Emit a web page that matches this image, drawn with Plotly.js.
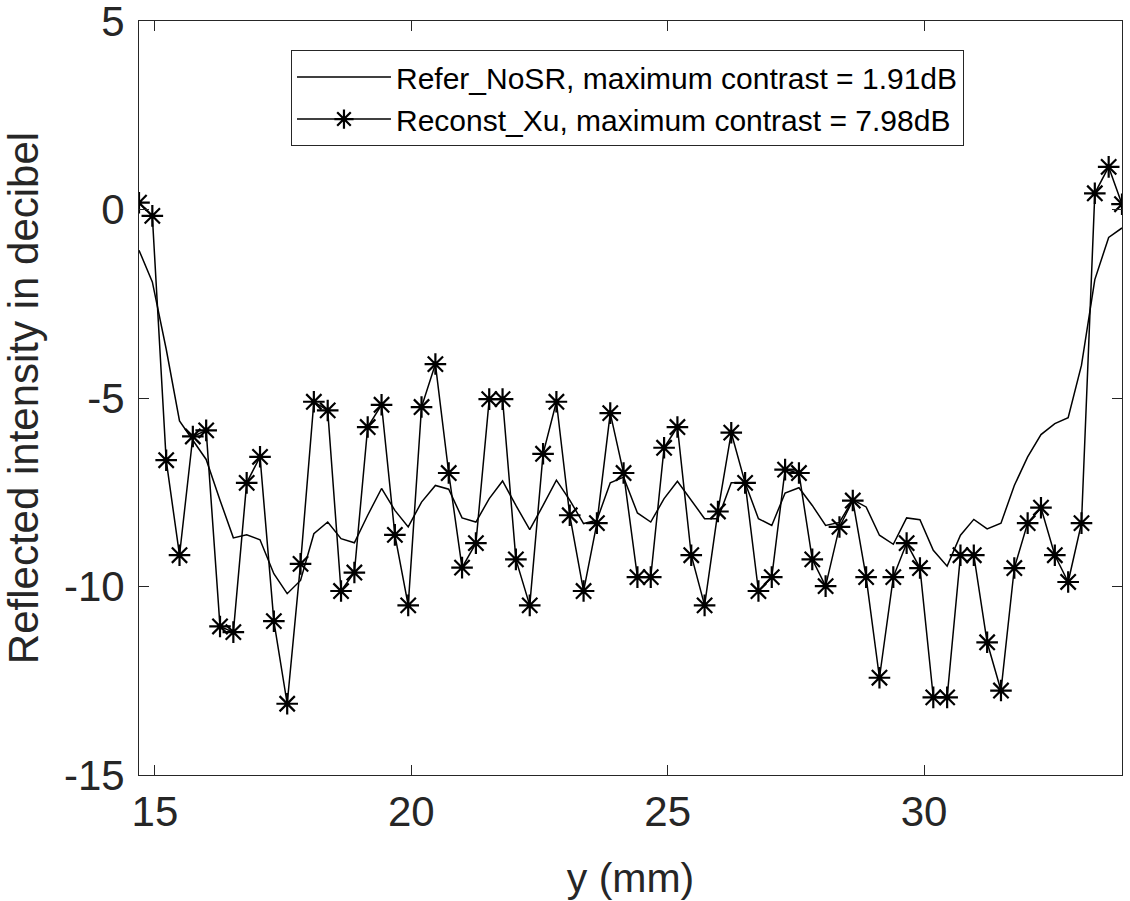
<!DOCTYPE html>
<html>
<head>
<meta charset="utf-8">
<script src="https://cdn.plot.ly/plotly-3.0.1.min.js"></script>
<style>html,body{margin:0;padding:0;background:#fff;}#chart{width:1130px;height:901px;}</style>
</head>
<body>
<div id="chart"></div>
<script>
// y position (mm)
const yPos = [14.69,14.95,15.22,15.48,15.74,16.00,16.27,16.53,16.79,17.05,
  17.32,17.58,17.84,18.10,18.37,18.63,18.89,19.15,19.42,19.68,
  19.94,20.20,20.47,20.73,20.99,21.26,21.52,21.78,22.04,22.31,
  22.57,22.83,23.09,23.36,23.62,23.88,24.14,24.41,24.67,24.93,
  25.19,25.46,25.72,25.98,26.24,26.51,26.77,27.03,27.29,27.56,
  27.82,28.08,28.35,28.61,28.87,29.13,29.40,29.66,29.92,30.18,
  30.45,30.71,30.97,31.23,31.50,31.76,32.02,32.28,32.55,32.81,
  33.07,33.33,33.60,33.86];

// Refer_NoSR (dB)
const referNoSR = [-1.08,-1.92,-3.70,-5.61,-6.12,-6.63,-7.71,-8.71,-8.63,-8.76,
  -9.66,-10.19,-9.84,-8.60,-8.29,-8.73,-8.84,-8.11,-7.40,-7.98,
  -8.42,-7.76,-7.32,-7.42,-8.18,-8.29,-7.67,-7.20,-7.85,-8.49,
  -7.85,-7.18,-7.71,-8.33,-8.24,-7.25,-7.10,-8.05,-8.29,-7.67,
  -7.21,-7.71,-8.20,-8.20,-7.25,-7.25,-8.20,-8.38,-7.52,-7.38,
  -7.85,-8.38,-8.30,-7.70,-7.89,-8.64,-8.88,-8.18,-8.23,-9.04,
  -9.46,-8.64,-8.22,-8.47,-8.32,-7.32,-6.56,-5.97,-5.68,-5.52,
  -4.13,-1.86,-0.74,-0.49];

// Reconst_Xu (dB)
const reconstXu = [0.18,-0.17,-6.65,-9.17,-6.02,-5.86,-11.06,-11.21,-7.25,-6.56,
  -10.92,-13.11,-9.40,-5.10,-5.33,-10.12,-9.63,-5.77,-5.18,-8.63,
  -10.50,-5.24,-4.10,-6.99,-9.50,-8.85,-5.03,-5.03,-9.28,-10.50,
  -6.48,-5.10,-8.11,-10.12,-8.32,-5.40,-6.99,-9.75,-9.75,-6.32,
  -5.77,-9.17,-10.50,-8.01,-5.92,-7.25,-10.12,-9.75,-6.90,-6.99,
  -9.28,-9.99,-8.42,-7.72,-9.75,-12.42,-9.75,-8.85,-9.51,-12.94,
  -12.94,-9.17,-9.17,-11.48,-12.76,-9.51,-8.32,-7.91,-9.17,-9.88,
  -8.32,0.43,1.13,0.14];

const seriesNames = ["Refer_NoSR, maximum contrast = 1.91dB",
                     "Reconst_Xu, maximum contrast = 7.98dB"];

const xTickVals = [15, 20, 25, 30];
const xTickText = ["15", "20", "25", "30"];
const yTickVals = [5, 0, -5, -10, -15];
const yTickText = ["5", "0", "-5", "-10", "-15"];

const FONT = 'Liberation Sans, Arial, Helvetica, sans-serif';
const AX = '#262626';

const traces = [
  {x: yPos, y: referNoSR, name: seriesNames[0], type: 'scatter', mode: 'lines',
   line: {color: '#000', width: 1.5}},
  {x: yPos, y: reconstXu, name: seriesNames[1], type: 'scatter', mode: 'lines+markers',
   line: {color: '#000', width: 1.5},
   marker: {symbol: 'asterisk-open', size: 18, color: '#000', line: {color: '#000', width: 2.2}}}
];

const layout = {
  width: 1130, height: 901,
  margin: {l: 139, r: 8, t: 21, b: 126},
  paper_bgcolor: '#fff', plot_bgcolor: '#fff',
  font: {family: FONT, color: AX},
  showlegend: true,
  legend: {
    x: 0.1546, y: 0.9615, xanchor: 'left', yanchor: 'top',
    bgcolor: '#fff', bordercolor: AX, borderwidth: 1,
    font: {family: FONT, size: 30, color: '#000'},
    itemwidth: 94, tracegroupgap: 0
  },
  xaxis: {
    range: [yPos[0], yPos[yPos.length - 1]],
    tickmode: 'array', tickvals: xTickVals, ticktext: xTickText,
    ticks: 'inside', ticklen: 10, tickwidth: 1, tickcolor: AX,
    showline: true, linecolor: AX, linewidth: 1, mirror: 'allticks',
    showgrid: false, zeroline: false, ticklabeloverflow: 'allow',
    tickfont: {family: FONT, size: 42, color: AX},
    title: {text: 'y (mm)', font: {family: FONT, size: 41, color: AX}, standoff: 30}
  },
  yaxis: {
    range: [-15, 5],
    tickmode: 'array', tickvals: yTickVals, ticktext: yTickText,
    ticks: 'inside', ticklen: 10, tickwidth: 1, tickcolor: AX,
    showline: true, linecolor: AX, linewidth: 1, mirror: 'allticks',
    showgrid: false, zeroline: false, ticklabeloverflow: 'allow',
    ticklabelstandoff: 5,
    tickfont: {family: FONT, size: 42, color: AX},
    title: {text: 'Reflected intensity in decibel', font: {family: FONT, size: 42, color: AX}, standoff: 20}
  }
};

Plotly.newPlot('chart', traces, layout, {displayModeBar: false, staticPlot: true});
</script>
</body>
</html>
